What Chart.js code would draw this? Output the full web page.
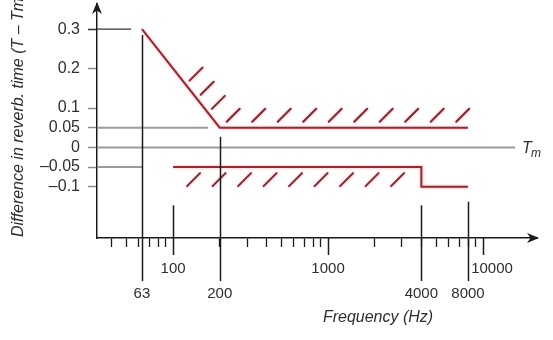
<!DOCTYPE html>
<html><head><meta charset="utf-8">
<script src="https://cdn.jsdelivr.net/npm/chart.js@4.4.1/dist/chart.umd.min.js"></script>
<style>html,body{margin:0;padding:0;background:#fff}canvas{display:block}</style>
</head><body>
<canvas id="c" width="553" height="340"></canvas>
<script>
// Axis ranges: frequency (Hz, logarithmic) and difference in reverberation time
const freqMin = 32.3, freqMax = 22300;
const diffMin = -0.23, diffMax = 0.364;

// Upper and lower tolerance limits for (T - Tm)
const upperFreq = [63, 200, 8000];
const upperDiff = [0.3, 0.05, 0.05];
const lowerFreq = [100, 4000, 4000, 8000];
const lowerDiff = [-0.05, -0.05, -0.1, -0.1];

// Leader lines running out from the level axis
const guideDiff = [0.3, 0.05, 0, -0.05];
const guideEndFreq = [53.6, 168, 16100, 63];

// Level axis ticks
const diffTicks = [-0.1, -0.05, 0, 0.05, 0.1, 0.2, 0.3];

// Frequency axis: short ticks, labelled decades, labelled band edges
const minorFreqTicks = [40, 50, 60, 70, 80, 90, 200, 300, 400, 500, 600, 700, 800, 900,
                        2000, 3000, 4000, 5000, 6000, 7000, 8000, 9000];
const decadeFreqs = [100, 1000, 10000];
const decadeLabels = ['100', '1000', '10000'];
const decadeTopDiff = [-0.147, null, null];
const bandFreqs = [63, 200, 4000, 8000];
const bandLabels = ['63', '200', '4000', '8000'];
const bandTopDiff = [0.2855, 0.027, -0.147, -0.138];

const FONT = '"Liberation Sans", Arial, Helvetica, sans-serif';
const INK = '#1a1a1a';
const TEXT = '#2e2e2e';
const LIMIT_RED = '#962832';
const HATCH_RED = '#86262f';
const HALO = 'rgba(232,130,140,0.7)';

function arrowHead(ctx, tipX, tipY, dx, dy) {
  const len = 12, half = 5, notch = 3.5;
  const px = -dy, py = dx;
  const bx = tipX - dx * len, by = tipY - dy * len;
  ctx.beginPath();
  ctx.moveTo(tipX, tipY);
  ctx.lineTo(bx + px * half, by + py * half);
  ctx.lineTo(tipX - dx * (len - notch), tipY - dy * (len - notch));
  ctx.lineTo(bx - px * half, by - py * half);
  ctx.closePath();
  ctx.fill();
}

function hatch(ctx, x, y) {
  // one short 45-degree stroke, (x, y) is its lower-left end
  ctx.beginPath();
  ctx.moveTo(x, y);
  ctx.lineTo(x + 13, y - 13);
  ctx.stroke();
}

const limitHalo = {
  id: 'limitHalo',
  beforeDatasetDraw(chart, args) {
    chart.ctx.save();
    if (args.index < 2) {
      chart.ctx.shadowColor = HALO;
      chart.ctx.shadowBlur = 3;
    }
  },
  afterDatasetDraw(chart) {
    chart.ctx.restore();
  }
};

const frame = {
  id: 'frame',
  afterDatasetsDraw(chart) {
    const ctx = chart.ctx;
    const up = chart.getDatasetMeta(0).data;
    const lo = chart.getDatasetMeta(1).data;
    ctx.save();
    ctx.strokeStyle = HATCH_RED;
    ctx.lineWidth = 2;
    ctx.lineCap = 'round';
    ctx.shadowColor = HALO;
    ctx.shadowBlur = 3;
    // hatching on the sloped part of the upper limit, measured back from the corner
    const p0 = up[0], p1 = up[1], p2 = up[2];
    const sx = p0.x - p1.x, sy = p0.y - p1.y;
    const sl = Math.hypot(sx, sy);
    [24, 42, 60].forEach(d => {
      const ax = p1.x + sx / sl * d, ay = p1.y + sy / sl * d;
      hatch(ctx, ax + 7, ay);
    });
    // hatching above the flat part of the upper limit
    for (let x = p1.x + 7; x + 13 <= p2.x + 2; x += 25.5) hatch(ctx, x, p1.y - 6);
    // hatching below the flat part of the lower limit
    const q0 = lo[0], q1 = lo[1];
    for (let x = q0.x + 14; x + 13 <= q1.x; x += 25.5) hatch(ctx, x, q0.y + 19);
    ctx.restore();
  },
  afterDraw(chart) {
    const ctx = chart.ctx;
    const {x, y} = chart.scales;
    const a = chart.chartArea;
    ctx.save();
    ctx.strokeStyle = INK;
    ctx.fillStyle = INK;
    ctx.lineWidth = 1.5;

    // long marker lines at band edges
    bandFreqs.forEach((f, i) => {
      const px = Math.round(x.getPixelForValue(f)) + 0.5;
      ctx.beginPath();
      ctx.moveTo(px, y.getPixelForValue(bandTopDiff[i]));
      ctx.lineTo(px, a.bottom + 43);
      ctx.stroke();
    });
    // decade ticks
    decadeFreqs.forEach((f, i) => {
      const px = Math.round(x.getPixelForValue(f)) + 0.5;
      const top = decadeTopDiff[i] === null ? a.bottom : y.getPixelForValue(decadeTopDiff[i]);
      ctx.beginPath();
      ctx.moveTo(px, top);
      ctx.lineTo(px, a.bottom + 17);
      ctx.stroke();
    });

    // axis arrows
    arrowHead(ctx, a.right + 2, a.bottom, 1, 0);
    arrowHead(ctx, a.left, a.top - 2, 0, -1);

    // frequency labels
    ctx.fillStyle = TEXT;
    ctx.font = '15px ' + FONT;
    ctx.textAlign = 'center';
    ctx.textBaseline = 'middle';
    decadeFreqs.forEach((f, i) => {
      const shift = f === 10000 ? 9 : 0;
      ctx.fillText(decadeLabels[i], x.getPixelForValue(f) + shift, a.bottom + 31);
    });
    bandFreqs.forEach((f, i) => {
      ctx.fillText(bandLabels[i], x.getPixelForValue(f), a.bottom + 56);
    });

    // axis titles
    ctx.font = 'italic 16px ' + FONT;
    ctx.fillText('Frequency (Hz)', 378, a.bottom + 80);

    ctx.save();
    ctx.translate(18.5, a.bottom - 1);
    ctx.rotate(-Math.PI / 2);
    ctx.textAlign = 'left';
    ctx.fillText('Difference in reverb. time (T \u2013 Tm)', 0, 0);
    ctx.restore();

    // reference level label
    const y0 = y.getPixelForValue(0);
    ctx.textAlign = 'left';
    ctx.textBaseline = 'alphabetic';
    ctx.font = 'italic 16px ' + FONT;
    ctx.fillText('T', 522, y0 + 6);
    ctx.font = 'italic 12px ' + FONT;
    ctx.fillText('m', 531, y0 + 10);
    ctx.restore();
  }
};

const toPoints = (fs, ds) => fs.map((f, i) => ({x: f, y: ds[i]}));

const datasets = [
  {data: toPoints(upperFreq, upperDiff), borderColor: LIMIT_RED, borderWidth: 2},
  {data: toPoints(lowerFreq, lowerDiff), borderColor: LIMIT_RED, borderWidth: 2}
];
guideDiff.forEach((d, i) => {
  const dark = d === 0.3;
  datasets.push({
    data: [{x: freqMin, y: d}, {x: guideEndFreq[i], y: d}],
    borderColor: dark ? '#333333' : '#9a9a9a',
    borderWidth: dark ? 1.2 : 2
  });
});
datasets.forEach(ds => {
  ds.showLine = true;
  ds.pointRadius = 0;
  ds.tension = 0;
  ds.fill = false;
});

new Chart(document.getElementById('c'), {
  type: 'scatter',
  data: {datasets},
  options: {
    responsive: false,
    animation: false,
    devicePixelRatio: 1,
    events: [],
    layout: {padding: {left: 0, top: 4, right: 16, bottom: 0}},
    plugins: {legend: {display: false}, tooltip: {enabled: false}},
    scales: {
      x: {
        type: 'logarithmic',
        min: freqMin, max: freqMax, bounds: 'data',
        afterBuildTicks: s => { s.ticks = minorFreqTicks.map(v => ({value: v})); },
        afterFit: s => { s.height = 102; s.paddingLeft = 0; s.paddingRight = 0; },
        grid: {drawOnChartArea: false, drawTicks: true, tickLength: 9, tickColor: INK, tickWidth: 1.3},
        border: {display: true, color: INK, width: 1.5},
        ticks: {display: false, autoSkip: false}
      },
      y: {
        type: 'linear',
        min: diffMin, max: diffMax,
        afterBuildTicks: s => { s.ticks = diffTicks.map(v => ({value: v})); },
        afterFit: s => { s.width = 97; s.paddingTop = 0; s.paddingBottom = 0; },
        grid: {
          drawOnChartArea: false, drawTicks: true, tickLength: 9, tickWidth: 1.5,
          tickColor: c => (c.tick && c.tick.value === 0.3) ? '#333333' : '#8c8c8c'
        },
        border: {display: true, color: INK, width: 1.5},
        ticks: {
          autoSkip: false, padding: 8, color: TEXT,
          font: {family: FONT, size: 16},
          callback: v => v < 0 ? '\u2013' + String(-v) : String(v)
        }
      }
    }
  },
  plugins: [limitHalo, frame]
});
</script>
</body></html>
